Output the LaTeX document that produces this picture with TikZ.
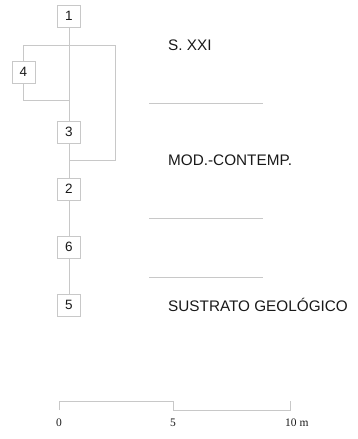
\documentclass[tikz,border=0pt]{standalone}
\usepackage{fontspec}
\setmainfont{Liberation Serif}
\setsansfont{Liberation Sans}
\usetikzlibrary{calc}
\definecolor{linegray}{RGB}{200,200,200}
\definecolor{inkgray}{RGB}{25,25,25}
\tikzset{
	ue/.style={draw=linegray, line width=0.8pt, fill=white, minimum width=23pt, minimum height=22pt, inner sep=0pt, font=\sffamily\fontsize{13.5}{15}\selectfont, text=inkgray},
	rel/.style={draw=linegray, line width=0.8pt},
	periodo/.style={anchor=west, inner sep=0pt, font=\sffamily\fontsize{15.3}{18}\selectfont, text=inkgray},
	escala/.style={inner sep=0pt, font=\rmfamily\fontsize{11.5}{13}\selectfont, text=inkgray}
}

\begin{document}
\begin{tikzpicture}[x=1pt, y=-1pt]
			%%%%% START %%%%%
			\useasboundingbox (0, 0) rectangle (358, 439);
			
			\coordinate (j1) at (69, 45);
			\coordinate (j2) at (69, 100);
			\coordinate (j3) at (69, 160);
			\coordinate (k) at (115, 160);
			
			\node[ue] (n1) at (69, 16) {1};
			\node[ue] (n4) at (23.5, 72) {4};
			\node[ue] (n3) at (69, 132) {3};
			\node[ue] (n2) at (69, 189) {2};
			\node[ue] (n6) at (69, 247) {6};
			\node[ue] (n5) at (69, 305) {5};
			
			\draw[rel] (n1) -- (n3);
			\draw[rel] (j1) -| (n4);
			\draw[rel] (n4) |- (j2);
			\draw[rel] (j1) -| (k) -- (j3);
			\draw[rel] (n3) -- (n2);
			\draw[rel] (n2) -- (n6);
			\draw[rel] (n6) -- (n5);
			
			\draw[rel] (149, 103) -- (263, 103);
			\draw[rel] (149, 218) -- (263, 218);
			\draw[rel] (149, 277) -- (263, 277);
			
			\node[periodo] (p1) at (168, 45) {S. XXI};
			\node[periodo] (p2) at (168, 160) {MOD.-CONTEMP.};
			\node[periodo] (p3) at (168, 305) {SUSTRATO GEOLÓGICO};
			
			\draw[rel] (59, 410) -- (59, 401) -- (173, 401) -- (173, 410) -- (290, 410) -- (290, 401);
			\node[escala] (e0) at (59, 423) {0};
			\node[escala] (e5) at (173, 423) {5};
			\node[escala, anchor=west] (e10) at (285, 423) {10 m};
			
			%%%%% END %%%%%
		\end{tikzpicture}
\end{document}
